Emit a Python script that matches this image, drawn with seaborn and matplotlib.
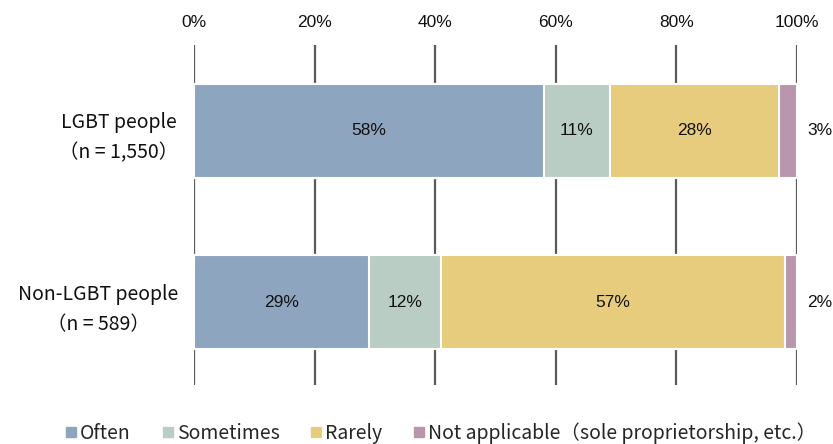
import matplotlib
matplotlib.use("Agg")
import matplotlib.pyplot as plt
from matplotlib.lines import Line2D
import seaborn as sns
import pandas as pd
import numpy as np

# Survey shares (percent) by group
groups = ["LGBT people\n（n = 1,550）", "Non-LGBT people\n（n = 589）"]
categories = ["Often", "Sometimes", "Rarely", "Not applicable（sole proprietorship, etc.）"]
often = [58, 29]
sometimes = [11, 12]
rarely = [28, 57]
not_applicable = [3, 2]
ticks = [0, 20, 40, 60, 80, 100]
tick_labels = ["0%", "20%", "40%", "60%", "80%", "100%"]

colors = ["#8EA5C0", "#B9CDC5", "#E8CC7E", "#B996AB"]

sns.set_theme(style="white")
plt.rcParams["font.family"] = ["Noto Sans CJK JP", "DejaVu Sans"]
num_font = ["Liberation Sans Narrow", "Liberation Sans", "DejaVu Sans"]

series = [often, sometimes, rarely, not_applicable]
cum = np.cumsum(np.array(series), axis=0)

fig = plt.figure(figsize=(8.33, 4.44), dpi=100)
ax = fig.add_axes([194 / 833, 1 - 385 / 444, (797 - 194) / 833, (385 - 45) / 444])

# Stacked bars: draw cumulative totals from the outermost segment inward
for i in range(len(categories) - 1, -1, -1):
    df = pd.DataFrame({"group": groups, "value": cum[i]})
    sns.barplot(data=df, x="value", y="group", orient="h", color=colors[i],
                width=0.548, edgecolor="white", linewidth=1.5, saturation=1,
                ax=ax, zorder=2)

ax.set_xlim(0, 100)
ax.set_ylim(1.481, -0.501)

# Value labels
for g in range(len(groups)):
    for i in range(len(categories)):
        v = series[i][g]
        left = cum[i][g] - v
        if v >= 5:
            ax.text(left + v / 2, g, f"{v}%", ha="center", va="center",
                    fontsize=12.5, family=num_font, color="#111111", zorder=3)
        else:
            ax.text(103.8, g, f"{v}%", ha="center", va="center",
                    fontsize=12.5, family=num_font, color="#111111",
                    clip_on=False, zorder=3)

# Top percentage axis with vertical gridlines
ax.xaxis.tick_top()
ax.set_xticks(ticks)
ax.set_xticklabels(tick_labels, family=num_font, fontsize=12.5, color="#111111")
ax.tick_params(axis="x", length=0, pad=11)
ax.tick_params(axis="y", length=0, pad=11)
for t in ticks:
    ax.axvline(t, color="#5a5a5a", linewidth=1.6, zorder=1)
for lab in ax.get_yticklabels():
    lab.set_fontsize(14)
    lab.set_color("#111111")
    lab.set_multialignment("center")
    lab.set_linespacing(1.55)
ax.set_xlabel("")
ax.set_ylabel("")
for s in ax.spines.values():
    s.set_visible(False)

handles = [Line2D([0], [0], marker="s", linestyle="none", markersize=7,
                  markerfacecolor=c, markeredgecolor=c) for c in colors]
fig.legend(handles, categories, loc="center", bbox_to_anchor=(0.528, 11 / 444),
           ncol=4, frameon=False, fontsize=14, handletextpad=0.05,
           columnspacing=1.5, handlelength=0.8)

fig.savefig("out.png", dpi=100)
